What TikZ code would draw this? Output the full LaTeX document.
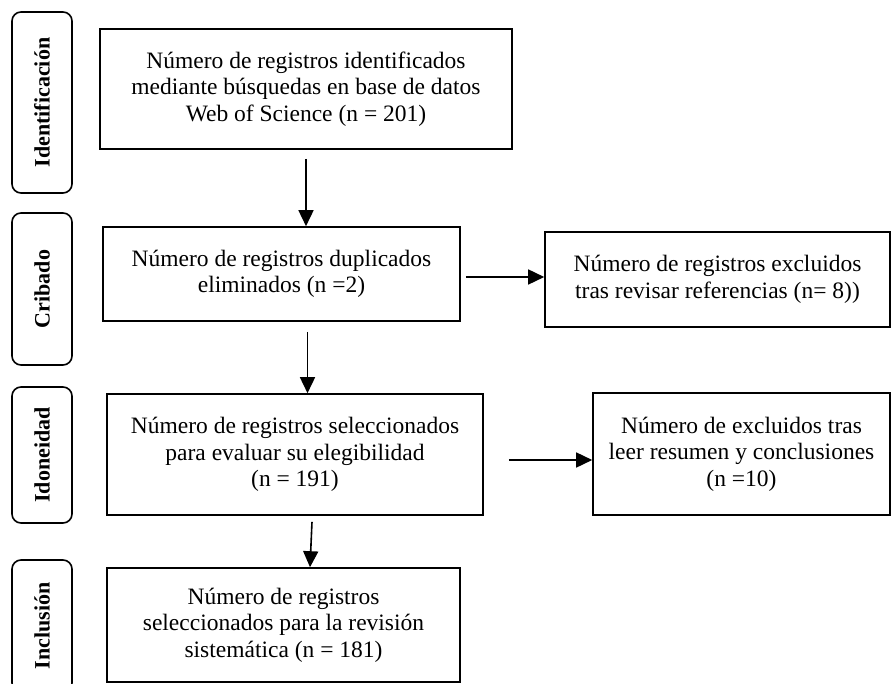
\documentclass[tikz,border=0pt]{standalone}
\usepackage{fontspec}
\setmainfont{Liberation Serif}
\usetikzlibrary{arrows.meta,calc}
\begin{document}
\begin{tikzpicture}[x=1pt,y=-1pt,
  box/.style={draw,line width=1.6pt,align=center,inner sep=0pt,
    font=\fontsize{23.5}{26.5}\selectfont},
  stage/.style={draw,line width=1.6pt,rounded corners=9pt,rotate=90,
    inner sep=0pt,minimum height=60pt,font=\bfseries\fontsize{22}{24}\selectfont},
  arr/.style={-{Triangle[length=16pt,width=15pt]},line width=1.6pt}]
\useasboundingbox (0,0) rectangle (891,684);
% stage labels
\node[stage,minimum width=181pt] (sid) at (42,102.5) {Identificación};
\node[stage,minimum width=152pt] (scr) at (42,289) {Cribado};
\node[stage,minimum width=136pt] (sido) at (42,455) {Idoneidad};
\node[stage,minimum width=132pt] (sinc) at (42,626) {Inclusión};
% main boxes
\node[box,minimum width=412pt,minimum height=120pt] (b1) at (306,89)
  {Número de registros identificados\\mediante búsquedas en base de datos\\Web of Science (n = 201)};
\node[box,minimum width=357pt,minimum height=94pt] (b2) at (281.5,274)
  {Número de registros duplicados\\eliminados (n =2)};
\node[box,minimum width=345pt,minimum height=95pt] (e1) at (717.5,279.5)
  {Número de registros excluidos\\tras revisar referencias (n= 8))};
\node[box,minimum width=376pt,minimum height=121pt] (b3) at (295,454.5)
  {Número de registros seleccionados\\para evaluar su elegibilidad\\(n = 191)};
\node[box,minimum width=297pt,minimum height=122pt] (e2) at (741.5,454)
  {Número de excluidos tras\\leer resumen y conclusiones\\(n =10)};
\node[box,minimum width=353pt,minimum height=114pt] (b4) at (283.5,625)
  {Número de registros\\seleccionados para la revisión\\sistemática (n = 181)};
% arrows
\draw[arr,shorten <=9pt] (b1.south) -- (b1.south |- b2.north);
\draw[arr] ($(b2.east)+(5,3)$) -- ($(e1.west)+(0,-2.5)$);
\draw[arr] ($(b2.south)+(26,10)$) -- ($(b3.north)+(12.5,0)$);
\draw[arr] ($(b3.east)+(25,5.5)$) -- ($(e2.west)+(0,6)$);
\draw[arr] ($(b3.south)+(17,6)$) -- ($(b4.north)+(26.5,0)$);
\end{tikzpicture}
\end{document}
